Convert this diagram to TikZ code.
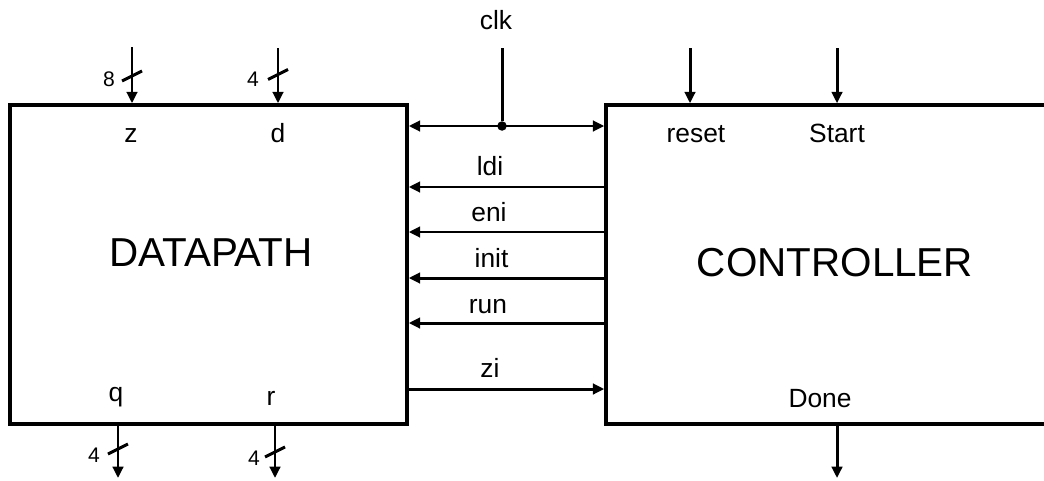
\documentclass[tikz,border=0pt]{standalone}
\usepackage{fontspec}
\setmainfont{Liberation Sans}
\usetikzlibrary{arrows.meta, positioning}

\begin{document}
\begin{tikzpicture}[
    sig/.style={-{Triangle[length=6.5pt,width=6pt]}, line width=1.7pt},
    sigboth/.style={{Triangle[length=6.5pt,width=6pt]}-{Triangle[length=6.5pt,width=6pt]}, line width=1.7pt},
    bus/.style={line width=1.7pt},
    blk/.style={draw, rectangle, line width=2pt, minimum height=6.38cm, inner sep=0pt},
    title/.style={font=\fontsize{23}{27}\selectfont, inner sep=0pt},
    lbl/.style={font=\fontsize{15}{18}\selectfont, anchor=base, inner sep=0pt},
    wd/.style={font=\fontsize{12}{14}\selectfont, inner sep=0pt},
    dot/.style={circle, fill, inner sep=0pt, minimum size=0.19cm}]
    \useasboundingbox (0,0) rectangle (20.88,9.6);

    % Left side: datapath block
    \node[blk, minimum width=7.94cm] (DP) at (4.17,4.31) {};
    \node[title] (DPname) at (4.22,4.54) {DATAPATH};
    \node[lbl] (z) at (2.62,6.76) {z};
    \node[lbl] (d) at (5.56,6.76) {d};
    \node[lbl] (q) at (2.32,1.58) {q};
    \node[lbl] (r) at (5.42,1.50) {r};

    % Right side: controller block (runs off the page)
    \node[blk, minimum width=9.88cm] (CT) at (17.06,4.31) {};
    \node[title] (CTname) at (16.70,4.34) {CONTROLLER};
    \node[lbl] (reset) at (13.92,6.76) {reset};
    \node[lbl] (Start) at (16.74,6.76) {Start};
    \node[lbl] (Done) at (16.40,1.46) {Done};

    % Inputs of the datapath
    \coordinate (zin) at (2.64,8.66);
    \coordinate (din) at (5.56,8.64);
    \draw[sig] (zin) -- (zin |- DP.north);
    \draw[sig] (din) -- (din |- DP.north);
    \draw[bus] (2.44,7.98) -- (2.84,8.18);
    \draw[bus] (5.36,8.01) -- (5.76,8.21);
    \node[wd] (wz) at (2.18,8.01) {8};
    \node[wd] (wd) at (5.06,8.02) {4};

    % Outputs of the datapath
    \coordinate (qout) at (2.36,0.04);
    \coordinate (rout) at (5.50,0.04);
    \draw[sig] (DP.south -| qout) -- (qout);
    \draw[sig] (DP.south -| rout) -- (rout);
    \draw[bus] (2.16,0.52) -- (2.56,0.72);
    \draw[bus] (5.30,0.46) -- (5.70,0.66);
    \node[wd] (wq) at (1.88,0.50) {4};
    \node[wd] (wr) at (5.08,0.44) {4};

    % Clock to both blocks
    \node[lbl] (clk) at (9.92,9.02) {clk};
    \coordinate (clkin) at (10.04,8.64);
    \node[dot] (jn) at (10.04,7.08) {};
    \draw[bus] (clkin) -- (jn);
    \draw[sigboth] (DP.east |- jn) -- (CT.west |- jn);

    % Control signals and status
    \draw[sig] (CT.west |- 0,5.86) -- (DP.east |- 0,5.86);
    \node[lbl] (ldi) at (9.80,6.10) {ldi};
    \draw[sig] (CT.west |- 0,4.96) -- (DP.east |- 0,4.96);
    \node[lbl] (eni) at (9.78,5.18) {eni};
    \draw[sig] (CT.west |- 0,4.04) -- (DP.east |- 0,4.04);
    \node[lbl] (init) at (9.83,4.26) {init};
    \draw[sig] (CT.west |- 0,3.14) -- (DP.east |- 0,3.14);
    \node[lbl] (run) at (9.76,3.34) {run};
    \draw[sig] (DP.east |- 0,1.82) -- (CT.west |- 0,1.82);
    \node[lbl] (zi) at (9.80,2.06) {zi};

    % Controller inputs and output
    \coordinate (resetin) at (13.80,8.64);
    \coordinate (startin) at (16.74,8.64);
    \coordinate (doneout) at (16.74,0.04);
    \draw[sig] (resetin) -- (resetin |- CT.north);
    \draw[sig] (startin) -- (startin |- CT.north);
    \draw[sig] (CT.south -| doneout) -- (doneout);
\end{tikzpicture}
\end{document}
